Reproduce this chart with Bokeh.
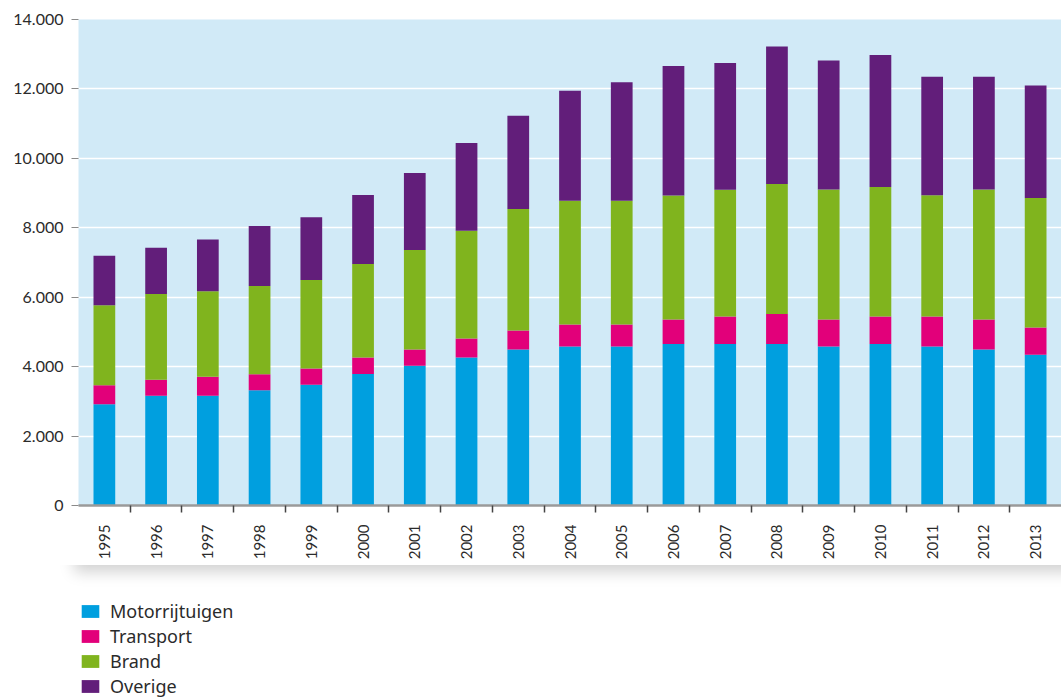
import math
from bokeh.plotting import figure
from bokeh.layouts import column
from bokeh.models import FixedTicker, LinearAxis, Range1d, Legend, LegendItem, ColumnDataSource
from bokeh.embed import file_html
from bokeh.resources import INLINE

years = [str(y) for y in range(1995, 2014)]
motorrijtuigen = [2920, 3160, 3160, 3320, 3475, 3790, 4025, 4260, 4495, 4580,
                  4580, 4655, 4655, 4655, 4580, 4655, 4580, 4495, 4340]
transport = [545, 460, 550, 460, 470, 470, 470, 550, 545, 635,
             635, 700, 790, 865, 780, 790, 865, 865, 785]
brand = [2305, 2470, 2460, 2545, 2550, 2695, 2865, 3105, 3500, 3565,
         3565, 3575, 3650, 3740, 3740, 3730, 3490, 3740, 3730]
overige = [1425, 1335, 1490, 1730, 1805, 1990, 2220, 2530, 2690, 3170,
           3410, 3730, 3655, 3960, 3720, 3805, 3415, 3250, 3245]
series = ["Motorrijtuigen", "Transport", "Brand", "Overige"]
colors = ["#009fdf", "#e2007a", "#80b41e", "#621e7a"]
y_ticks = [0, 2000, 4000, 6000, 8000, 10000, 12000, 14000]

xs = list(range(len(years)))
source = ColumnDataSource(dict(x=xs, Motorrijtuigen=motorrijtuigen, Transport=transport,
                               Brand=brand, Overige=overige))

p = figure(width=1061, height=565, x_range=Range1d(-0.5, len(years) - 0.5),
           y_range=Range1d(0, y_ticks[-1]), x_axis_location=None,
           output_backend="svg", toolbar_location=None,
           min_border_left=78, min_border_right=0, min_border_top=19, min_border_bottom=60,
           background_fill_color="#d1eaf7", border_fill_color="white",
           outline_line_color=None)
p.styles = {"box-shadow": "72px 9px 14px -2px rgba(0,0,0,0.18)"}

p.vbar_stack(series, x="x", width=0.42, color=colors, source=source, line_color=None)

# y axis
ya = p.yaxis[0]
ya.ticker = FixedTicker(ticks=y_ticks)
ya.major_label_overrides = {t: f"{t:,}".replace(",", ".") for t in y_ticks}
ya.axis_line_color = None
ya.major_tick_line_color = "#8a8a8a"
ya.major_tick_out = 7
ya.major_tick_in = 0
ya.minor_tick_line_color = None
ya.major_label_standoff = 8
ya.major_label_text_font = "Lato"
ya.major_label_text_font_size = "16px"
ya.major_label_text_color = "#2b2b2b"

p.xgrid.visible = False
p.ygrid.grid_line_color = "white"
p.ygrid.grid_line_width = 1.5
p.ygrid.ticker = FixedTicker(ticks=y_ticks)

# tick-only axis (ticks between categories)
ax1 = LinearAxis(ticker=FixedTicker(ticks=[i + 0.5 for i in xs[:-1]]),
                 major_label_overrides={i + 0.5: "" for i in xs[:-1]},
                 major_label_standoff=0, major_label_text_font_size="1px",
                 axis_line_color="#9a9a9a", axis_line_width=2.5,
                 major_tick_line_color="#444444", major_tick_line_width=1.5,
                 major_tick_out=7, major_tick_in=0, minor_tick_line_color=None)
p.add_layout(ax1, "below")

# label axis
ax2 = LinearAxis(ticker=FixedTicker(ticks=xs),
                 major_label_overrides={i: years[i] for i in xs},
                 major_label_orientation=math.pi / 2,
                 major_label_standoff=6,
                 major_label_text_font="Lato", major_label_text_font_size="15px",
                 major_label_text_color="#2b2b2b",
                 axis_line_color=None, major_tick_line_color=None, minor_tick_line_color=None)
p.add_layout(ax2, "below")

# legend in a separate strip below the chart (hidden renderers, only swatches shown)
q = figure(width=1061, height=132, x_range=Range1d(-0.5, len(years) - 0.5),
           y_range=Range1d(0, y_ticks[-1]),
           x_axis_location=None, y_axis_location=None,
           output_backend="svg", toolbar_location=None,
           min_border=0, outline_line_color=None,
           border_fill_alpha=0, background_fill_alpha=0)
q.grid.visible = False
leg_renderers = q.vbar_stack(series, x="x", width=0.42, color=colors, source=source,
                             line_color=None)
for r in leg_renderers:
    r.visible = False
legend = Legend(items=[LegendItem(label=s, renderers=[r], index=0)
                       for s, r in zip(series, leg_renderers)],
                location=(1, -1), orientation="vertical",
                glyph_width=22, glyph_height=16, label_height=20, label_standoff=9,
                label_text_font="Noto Sans", label_text_font_size="18px",
                label_text_color="#2b2b2b", spacing=1, padding=0, margin=0,
                inactive_fill_alpha=0,
                border_line_color=None, background_fill_alpha=0)
q.add_layout(legend)

layout = column(p, q, spacing=0)
open("out.html", "w").write(file_html(layout, INLINE))
